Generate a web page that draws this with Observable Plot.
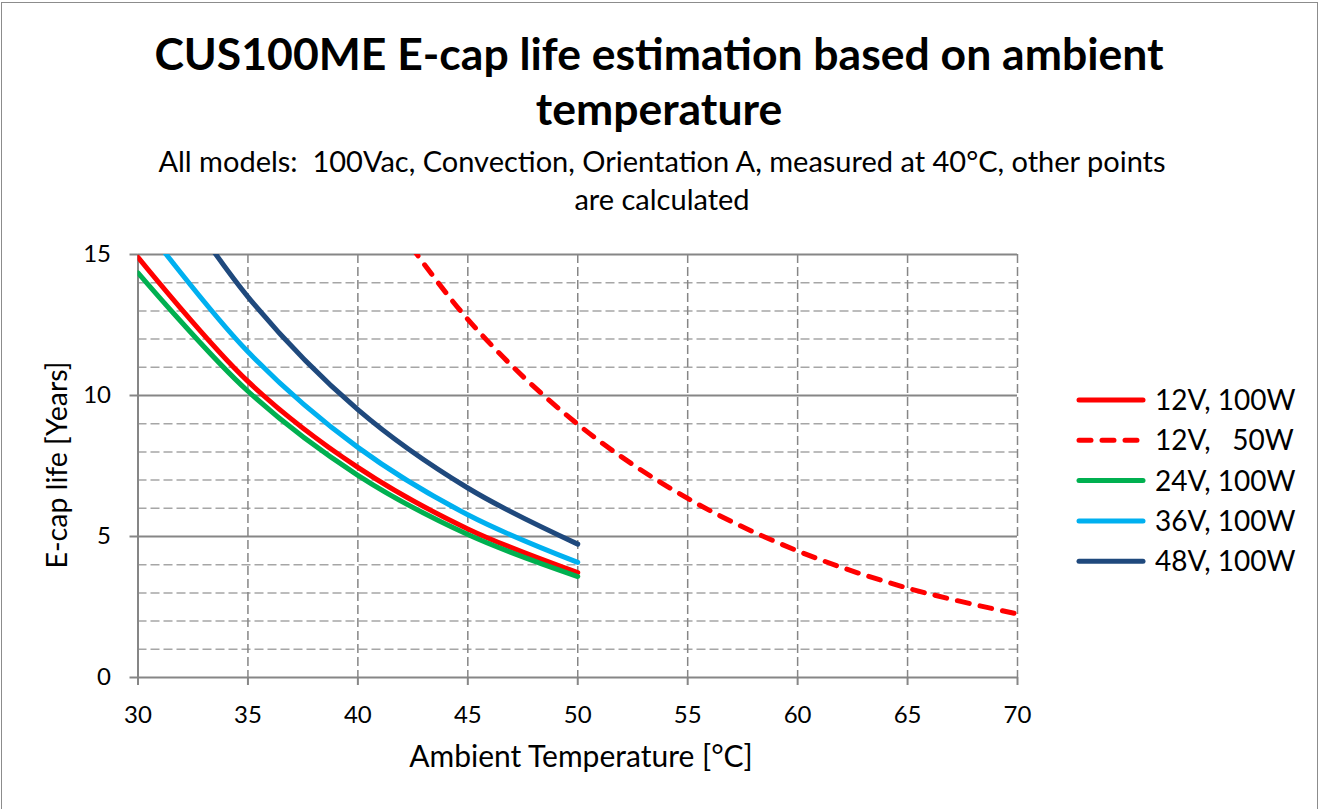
<!DOCTYPE html>
<html><head><meta charset="utf-8">
<script src="https://cdn.jsdelivr.net/npm/d3@7"></script>
<script src="https://cdn.jsdelivr.net/npm/@observablehq/plot@0.6"></script>
<style>
body{margin:0;background:#fff;}
#wrap{position:relative;width:1319px;height:809px;overflow:hidden;font-family:Lato,sans-serif;background:#fff;}
#frame{position:absolute;left:1px;top:2px;width:1317px;height:830px;border:1.5px solid #8c8c8c;box-sizing:border-box;}
#chart{position:absolute;left:0;top:0;}
#overlay{position:absolute;left:0;top:0;}
</style></head><body>
<div id="wrap"><div id="frame"></div><div id="chart"></div><svg id="overlay" width="1319" height="809"></svg></div>
<script>
// ---- data ----
const temps = [30, 35, 40, 45, 50];
const v12_100 = [14.9, 10.5, 7.45, 5.27, 3.72];
const v24_100 = [14.35, 10.15, 7.17, 5.07, 3.58];
const v36_100 = [16.3, 11.55, 8.16, 5.77, 4.08];
const v48_100 = [19.1, 13.5, 9.5, 6.72, 4.73];
const tempsWide = [40, 45, 50, 55, 60, 65, 70];
const v12_50 = [17.96, 12.7, 8.98, 6.35, 4.49, 3.17, 2.25];
const seriesNames = ["12V, 100W", "12V,   50W", "24V, 100W", "36V, 100W", "48V, 100W"];
const seriesColors = ["#ff0000", "#ff0000", "#00b050", "#00b0f0", "#1f497d"];
const seriesDashed = [false, true, false, false, false];
const xTicks = [30, 35, 40, 45, 50, 55, 60, 65, 70];
const yTicks = [0, 5, 10, 15];
const yMinor = [1, 2, 3, 4, 6, 7, 8, 9, 11, 12, 13, 14];
const titleLines = ["CUS100ME E-cap life estimation based on ambient", "temperature"];
const subtitleLines = ["All models:  100Vac, Convection, Orientation A, measured at 40°C, other points", "are calculated"];
const xLabel = "Ambient Temperature [°C]";
const yLabel = "E-cap life [Years]";

const seriesX = [temps, tempsWide, temps, temps, temps];
const seriesY = [v12_100, v12_50, v24_100, v36_100, v48_100];
const rows = seriesNames.flatMap((s, k) => seriesX[k].map((x, i) => ({s, x, y: seriesY[k][i]})));

const lineMarks = seriesNames.map((s, k) => Plot.line(rows.filter(d => d.s === s), {
  x: "x", y: "y", stroke: seriesColors[k], strokeWidth: 5,
  strokeDasharray: seriesDashed[k] ? "12,11" : null,
  strokeLinecap: "round", curve: "catmull-rom", clip: true
}));

const grid = "#868686";
const chart = Plot.plot({
  width: 1319, height: 809,
  marginLeft: 137.5, marginRight: 302, marginTop: 254, marginBottom: 132,
  x: {domain: [30, 70]},
  y: {domain: [0, 15]},
  style: {fontFamily: "Lato, sans-serif", fontSize: "24px", color: "#000", background: "transparent", overflow: "visible"},
  marks: [
    Plot.ruleY(yMinor, {stroke: "#a6a6a6", strokeWidth: 1.5, strokeDasharray: "9,4"}),
    Plot.ruleX(xTicks.filter(t => t > 30), {stroke: grid, strokeWidth: 1.5, strokeDasharray: "9,4"}),
    Plot.ruleY(yTicks, {stroke: grid, strokeWidth: 2}),
    Plot.ruleX([30], {stroke: grid, strokeWidth: 2}),
    Plot.axisX({ticks: xTicks, tickSize: 8, tickPadding: 20, stroke: grid, strokeWidth: 2, strokeOpacity: 1, label: null, fontSize: 24, tickFormat: d => String(d)}),
    Plot.axisY({ticks: yTicks, tickSize: 8, tickPadding: 19, stroke: grid, strokeWidth: 2, strokeOpacity: 1, label: null, fontSize: 24, tickFormat: d => String(d)}),
    ...lineMarks
  ]
});
document.getElementById("chart").appendChild(chart);

// ---- titles, axis titles, legend ----
const ov = d3.select("#overlay").style("font-family", "Lato, sans-serif");
ov.selectAll("text.title").data(titleLines).join("text").attr("class", "title")
  .attr("x", 659).attr("y", (d, i) => 70 + i * 55).attr("text-anchor", "middle")
  .attr("font-size", 44.5).attr("font-weight", "bold").attr("fill", "#000").text(d => d);
ov.selectAll("text.sub").data(subtitleLines).join("text").attr("class", "sub")
  .attr("x", 662).attr("y", (d, i) => 172 + i * 38).attr("text-anchor", "middle")
  .attr("font-size", 29).attr("fill", "#000").style("white-space", "pre").text(d => d);
ov.append("text").attr("x", 581).attr("y", 767).attr("text-anchor", "middle")
  .attr("font-size", 30).attr("fill", "#000").text(xLabel);
ov.append("text").attr("transform", "translate(67,465) rotate(-90)").attr("text-anchor", "middle")
  .attr("font-size", 28.5).attr("fill", "#000").text(yLabel);
const lg = ov.selectAll("g.lg").data(seriesNames).join("g").attr("class", "lg")
  .attr("transform", (d, i) => `translate(1077,${400 + i * 40.3})`);
lg.append("line").attr("x1", 2).attr("x2", 66).attr("y1", 0).attr("y2", 0)
  .attr("stroke", (d, i) => seriesColors[i]).attr("stroke-width", 5).attr("stroke-linecap", "round")
  .attr("stroke-dasharray", (d, i) => seriesDashed[i] ? "12,11" : null);
lg.append("text").attr("x", 78).attr("y", 10).attr("font-size", 28).attr("fill", "#000")
  .style("white-space", "pre").text(d => d);
</script>
</body></html>
